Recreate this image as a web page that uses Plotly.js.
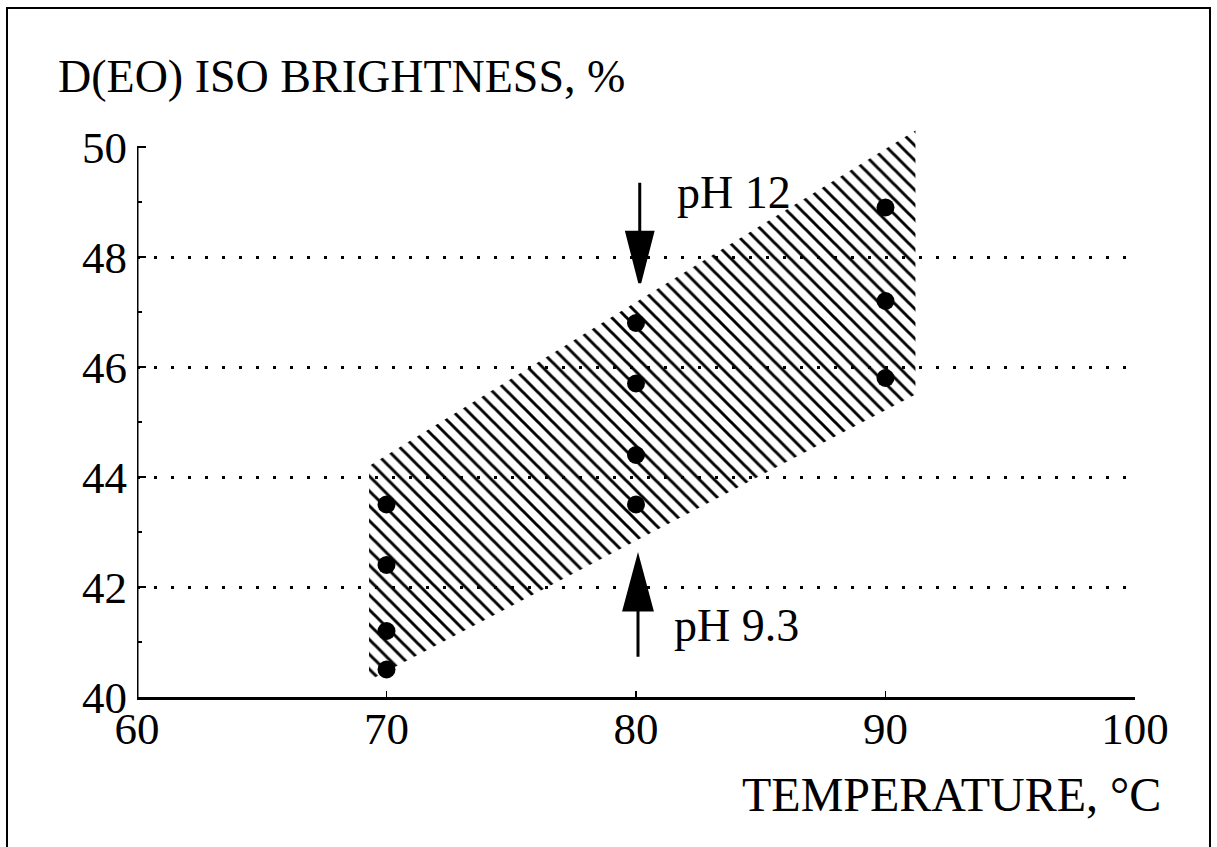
<!DOCTYPE html>
<html>
<head>
<meta charset="utf-8">
<script src="https://cdn.plot.ly/plotly-3.0.1.min.js"></script>
<style>
  html, body { margin: 0; padding: 0; background: #ffffff; }
  #chart { width: 1217px; height: 847px; }
</style>
</head>
<body>
<div id="chart"></div>
<script>
// ---- data ----
const temperatures = [70, 70, 70, 70, 80, 80, 80, 80, 90, 90, 90];
const brightness   = [43.5, 42.4, 41.2, 40.5, 46.8, 45.7, 44.4, 43.5, 48.9, 47.2, 45.8];

// hatched band (corners of the parallelogram)
const bandTemp   = [69.3, 69.3, 91.2, 91.2];
const bandBright = [40.3, 44.2, 50.3, 45.5];

const xTicks = [60, 70, 80, 90, 100];
const yTicks = [40, 42, 44, 46, 48, 50];
const gridVals = [42, 44, 46, 48];

const yTitle = 'D(EO) ISO BRIGHTNESS, %';
const xTitle = 'TEMPERATURE, °C';
const labelHigh = 'pH 12';
const labelLow = 'pH 9.3';

const FONT = '"Liberation Serif", "Times New Roman", Times, serif';

// layout geometry
const ML = 137, MR = 82, MT = 125, MB = 150;
const W = 1217, H = 847;
const PW = W - ML - MR, PH = H - MT - MB;
const px = v => (v - ML) / PW;          // pixel x -> paper
const py = v => (H - MB - v) / PH;      // pixel y -> paper

const traces = [
  {
    x: bandTemp, y: bandBright,
    yaxis: 'y2',
    type: 'scatter', mode: 'lines',
    fill: 'toself',
    line: { width: 0, color: 'rgba(0,0,0,0)' },
    fillcolor: 'rgba(0,0,0,0)',
    fillpattern: { shape: '\\', fgcolor: '#000000', size: 10.5, solidity: 0.28 },
    hoverinfo: 'skip', showlegend: false
  },
  {
    x: temperatures, y: brightness,
    type: 'scatter', mode: 'markers',
    marker: { size: 18, color: '#000000' },
    showlegend: false
  }
];

const layout = {
  width: W, height: H,
  margin: { l: ML, r: MR, t: MT, b: MB, pad: 0 },
  paper_bgcolor: '#ffffff',
  plot_bgcolor: 'rgba(0,0,0,0)',
  showlegend: false,
  font: { family: FONT, color: '#000000' },
  xaxis: {
    range: [60, 100],
    tickvals: xTicks,
    ticktext: xTicks.map(String),
    ticks: 'inside', ticklen: 6, tickwidth: 1.5, tickcolor: '#000',
    showline: true, linecolor: '#000', linewidth: 3,
    showgrid: false, zeroline: false,
    ticklabelstandoff: -10,
    tickfont: { family: FONT, size: 45, color: '#000' }
  },
  yaxis: {
    range: [40, 50.4],
    tickvals: yTicks,
    ticktext: yTicks.map(String),
    ticks: 'inside', ticklen: 9, tickwidth: 2.5, tickcolor: '#000',
    minor: { dtick: 1, ticks: 'inside', ticklen: 5, tickwidth: 2.5, tickcolor: '#000', showgrid: false },
    showline: false, showgrid: false, zeroline: false,
    ticklabelstandoff: 9,
    tickfont: { family: FONT, size: 45, color: '#000' }
  },
  yaxis2: {
    overlaying: 'y',
    range: [40, 50.4],
    tickvals: gridVals,
    showticklabels: false,
    ticks: '',
    showgrid: true, gridcolor: '#000000', gridwidth: 3, griddash: '3px,14px',
    showline: false, zeroline: false
  },
  shapes: [
    // y axis line ending at 50
    { type: 'line', xref: 'x', yref: 'y', x0: 60, x1: 60, y0: 40, y1: 50,
      line: { color: '#000', width: 3 } },
    // pH 12 arrow (pointing down)
    { type: 'path', xref: 'x', yref: 'y',
      path: 'M80.15,49.35 L80.15,48.4 M79.63,48.45 L80.67,48.45 L80.15,47.53 Z',
      fillcolor: '#000', line: { color: '#000', width: 3 } },
    // pH 9.3 arrow (pointing up)
    { type: 'path', xref: 'x', yref: 'y',
      path: 'M80.08,40.73 L80.08,41.65 M79.52,41.58 L80.64,41.58 L80.08,42.53 Z',
      fillcolor: '#000', line: { color: '#000', width: 3 } },
    // outer frame of the figure
    { type: 'rect', xref: 'paper', yref: 'paper',
      x0: px(7), x1: px(1210), y0: py(860), y1: py(8),
      line: { color: '#000', width: 2 }, fillcolor: 'rgba(0,0,0,0)', layer: 'above' }
  ],
  annotations: [
    { text: yTitle, xref: 'paper', yref: 'paper', x: px(56), y: py(76),
      xanchor: 'left', yanchor: 'middle', showarrow: false,
      font: { family: FONT, size: 46, color: '#000' } },
    { text: xTitle, xref: 'paper', yref: 'paper', x: px(1163), y: py(794),
      xanchor: 'right', yanchor: 'middle', showarrow: false,
      font: { family: FONT, size: 48, color: '#000' } },
    { text: labelHigh, xref: 'x', yref: 'y', x: 81.55, y: 49.18,
      xanchor: 'left', yanchor: 'middle', showarrow: false,
      font: { family: FONT, size: 46, color: '#000' } },
    { text: labelLow, xref: 'x', yref: 'y', x: 81.45, y: 41.3,
      xanchor: 'left', yanchor: 'middle', showarrow: false,
      font: { family: FONT, size: 46, color: '#000' } }
  ]
};

Plotly.newPlot('chart', traces, layout, { displayModeBar: false, staticPlot: true });
</script>
</body>
</html>
